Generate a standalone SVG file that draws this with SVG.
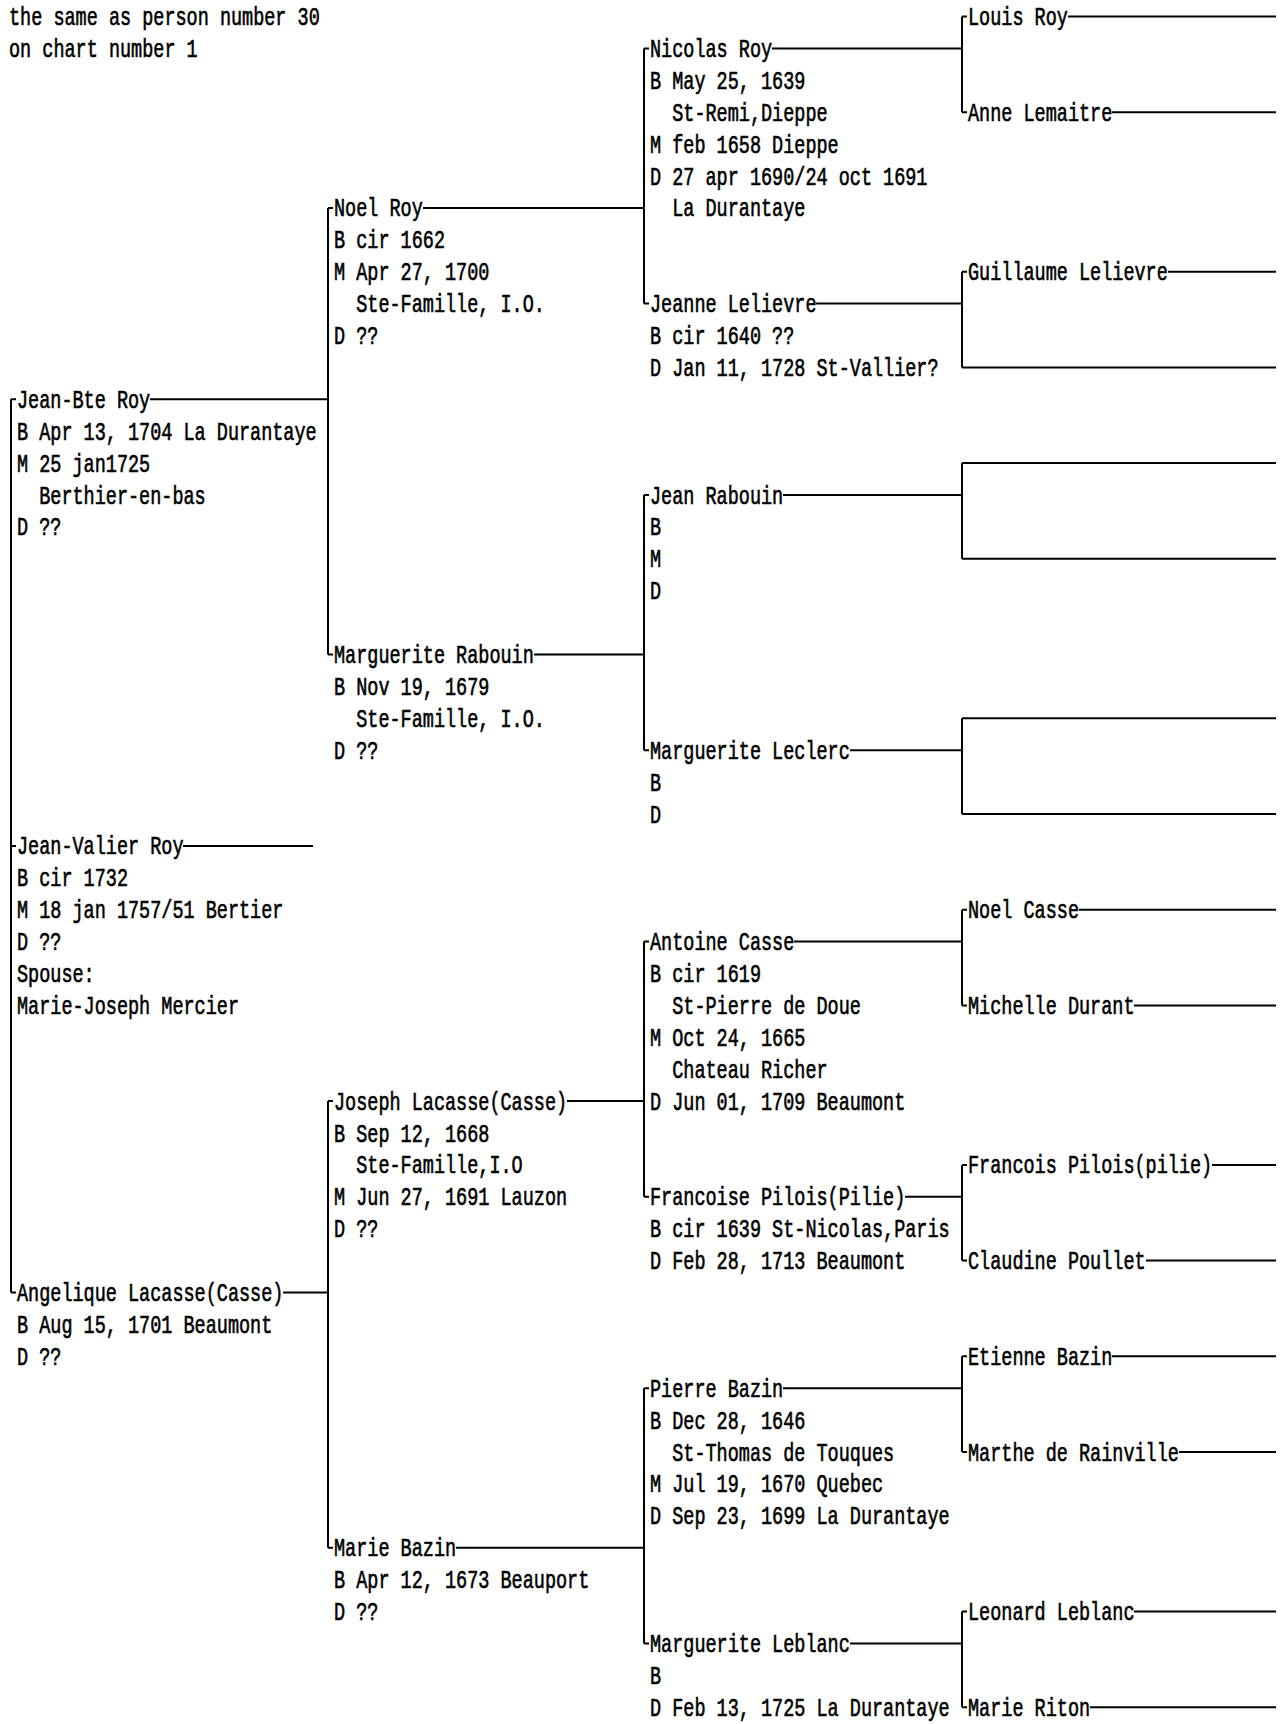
<svg xmlns="http://www.w3.org/2000/svg" width="1283" height="1724" viewBox="0 0 1283 1724">
<style>
.t{font-family:"Liberation Mono","DejaVu Sans Mono",monospace;font-size:18.5px;fill:#000;stroke:#000;stroke-width:0.45;white-space:pre}
.c{stroke:#000;stroke-width:2;fill:none}
</style>
<rect width="1283" height="1724" fill="#fff"/>
<g id="connectors" class="c">
<path d="M11 399.3V1292.5M11 399.3H16M11 845.9H16M11 1292.5H16"/>
<path d="M150 399.3H328M183 845.9H313M283 1292.5H328"/>
<path d="M328 207.9V654.5M328 207.9H333M328 654.5H333M328 1101.1V1547.7M328 1101.1H333M328 1547.7H333"/>
<path d="M423 207.9H644M534 654.5H644M567 1101.1H644M456 1547.7H644"/>
<path d="M644 48.4V303.6M644 48.4H649M644 303.6H649M644 495V750.2M644 495H649M644 750.2H649M644 941.6V1196.8M644 941.6H649M644 1196.8H649M644 1388.2V1643.4M644 1388.2H649M644 1643.4H649"/>
<path d="M772 48.4H962M816 303.6H962M783 495H962M850 750.2H962M794 941.6H962M905 1196.8H962M783 1388.2H962M850 1643.4H962"/>
<path d="M962 16.5V112.2M962 271.7V367.4M962 463.1V558.8M962 718.3V814M962 909.7V1005.4M962 1164.9V1260.6M962 1356.3V1452M962 1611.5V1707.2"/>
<path d="M962 16.5H967M1068 16.5H1276M962 112.2H967M1112 112.2H1276M962 271.7H967M1168 271.7H1276M962 367.4H1276M962 463.1H1276M962 558.8H1276M962 718.3H1276M962 814H1276M962 909.7H967M1079 909.7H1276M962 1005.4H967M1134 1005.4H1276M962 1164.9H967M1212 1164.9H1276M962 1260.6H967M1146 1260.6H1276M962 1356.3H967M1112 1356.3H1276M962 1452H967M1179 1452H1276M962 1611.5H967M1134 1611.5H1276M962 1707.2H967M1090 1707.2H1276"/>
</g>
<g id="note">
<text class="t" transform="matrix(1 0 0 1.4 9 25)">the same as person number 30</text>
<text class="t" transform="matrix(1 0 0 1.4 9 56.9)">on chart number 1</text>
</g>
<g id="jean-bte-roy">
<text class="t" transform="matrix(1 0 0 1.4 17 407.8)">Jean-Bte Roy</text>
<text class="t" transform="matrix(1 0 0 1.4 17 439.7)">B Apr 13, 1704 La Durantaye</text>
<text class="t" transform="matrix(1 0 0 1.4 17 471.6)">M 25 jan1725</text>
<text class="t" transform="matrix(1 0 0 1.4 39.2 503.5)">Berthier-en-bas</text>
<text class="t" transform="matrix(1 0 0 1.4 17 535.4)">D ??</text>
</g>
<g id="jean-valier-roy">
<text class="t" transform="matrix(1 0 0 1.4 17 854.4)">Jean-Valier Roy</text>
<text class="t" transform="matrix(1 0 0 1.4 17 886.3)">B cir 1732</text>
<text class="t" transform="matrix(1 0 0 1.4 17 918.2)">M 18 jan 1757/51 Bertier</text>
<text class="t" transform="matrix(1 0 0 1.4 17 950.1)">D ??</text>
<text class="t" transform="matrix(1 0 0 1.4 17 982)">Spouse:</text>
<text class="t" transform="matrix(1 0 0 1.4 17 1013.9)">Marie-Joseph Mercier</text>
</g>
<g id="angelique-lacasse">
<text class="t" transform="matrix(1 0 0 1.4 17 1301)">Angelique Lacasse(Casse)</text>
<text class="t" transform="matrix(1 0 0 1.4 17 1332.9)">B Aug 15, 1701 Beaumont</text>
<text class="t" transform="matrix(1 0 0 1.4 17 1364.8)">D ??</text>
</g>
<g id="noel-roy">
<text class="t" transform="matrix(1 0 0 1.4 334 216.4)">Noel Roy</text>
<text class="t" transform="matrix(1 0 0 1.4 334 248.3)">B cir 1662</text>
<text class="t" transform="matrix(1 0 0 1.4 334 280.2)">M Apr 27, 1700</text>
<text class="t" transform="matrix(1 0 0 1.4 356.2 312.1)">Ste-Famille, I.O.</text>
<text class="t" transform="matrix(1 0 0 1.4 334 344)">D ??</text>
</g>
<g id="marguerite-rabouin">
<text class="t" transform="matrix(1 0 0 1.4 334 663)">Marguerite Rabouin</text>
<text class="t" transform="matrix(1 0 0 1.4 334 694.9)">B Nov 19, 1679</text>
<text class="t" transform="matrix(1 0 0 1.4 356.2 726.8)">Ste-Famille, I.O.</text>
<text class="t" transform="matrix(1 0 0 1.4 334 758.7)">D ??</text>
</g>
<g id="joseph-lacasse">
<text class="t" transform="matrix(1 0 0 1.4 334 1109.6)">Joseph Lacasse(Casse)</text>
<text class="t" transform="matrix(1 0 0 1.4 334 1141.5)">B Sep 12, 1668</text>
<text class="t" transform="matrix(1 0 0 1.4 356.2 1173.4)">Ste-Famille,I.O</text>
<text class="t" transform="matrix(1 0 0 1.4 334 1205.3)">M Jun 27, 1691 Lauzon</text>
<text class="t" transform="matrix(1 0 0 1.4 334 1237.2)">D ??</text>
</g>
<g id="marie-bazin">
<text class="t" transform="matrix(1 0 0 1.4 334 1556.2)">Marie Bazin</text>
<text class="t" transform="matrix(1 0 0 1.4 334 1588.1)">B Apr 12, 1673 Beauport</text>
<text class="t" transform="matrix(1 0 0 1.4 334 1620)">D ??</text>
</g>
<g id="nicolas-roy">
<text class="t" transform="matrix(1 0 0 1.4 650 56.9)">Nicolas Roy</text>
<text class="t" transform="matrix(1 0 0 1.4 650 88.8)">B May 25, 1639</text>
<text class="t" transform="matrix(1 0 0 1.4 672.2 120.7)">St-Remi,Dieppe</text>
<text class="t" transform="matrix(1 0 0 1.4 650 152.6)">M feb 1658 Dieppe</text>
<text class="t" transform="matrix(1 0 0 1.4 650 184.5)">D 27 apr 1690/24 oct 1691</text>
<text class="t" transform="matrix(1 0 0 1.4 672.2 216.4)">La Durantaye</text>
</g>
<g id="jeanne-lelievre">
<text class="t" transform="matrix(1 0 0 1.4 650 312.1)">Jeanne Lelievre</text>
<text class="t" transform="matrix(1 0 0 1.4 650 344)">B cir 1640 ??</text>
<text class="t" transform="matrix(1 0 0 1.4 650 375.9)">D Jan 11, 1728 St-Vallier?</text>
</g>
<g id="jean-rabouin">
<text class="t" transform="matrix(1 0 0 1.4 650 503.5)">Jean Rabouin</text>
<text class="t" transform="matrix(1 0 0 1.4 650 535.4)">B</text>
<text class="t" transform="matrix(1 0 0 1.4 650 567.3)">M</text>
<text class="t" transform="matrix(1 0 0 1.4 650 599.2)">D</text>
</g>
<g id="marguerite-leclerc">
<text class="t" transform="matrix(1 0 0 1.4 650 758.7)">Marguerite Leclerc</text>
<text class="t" transform="matrix(1 0 0 1.4 650 790.6)">B</text>
<text class="t" transform="matrix(1 0 0 1.4 650 822.5)">D</text>
</g>
<g id="antoine-casse">
<text class="t" transform="matrix(1 0 0 1.4 650 950.1)">Antoine Casse</text>
<text class="t" transform="matrix(1 0 0 1.4 650 982)">B cir 1619</text>
<text class="t" transform="matrix(1 0 0 1.4 672.2 1013.9)">St-Pierre de Doue</text>
<text class="t" transform="matrix(1 0 0 1.4 650 1045.8)">M Oct 24, 1665</text>
<text class="t" transform="matrix(1 0 0 1.4 672.2 1077.7)">Chateau Richer</text>
<text class="t" transform="matrix(1 0 0 1.4 650 1109.6)">D Jun 01, 1709 Beaumont</text>
</g>
<g id="francoise-pilois">
<text class="t" transform="matrix(1 0 0 1.4 650 1205.3)">Francoise Pilois(Pilie)</text>
<text class="t" transform="matrix(1 0 0 1.4 650 1237.2)">B cir 1639 St-Nicolas,Paris</text>
<text class="t" transform="matrix(1 0 0 1.4 650 1269.1)">D Feb 28, 1713 Beaumont</text>
</g>
<g id="pierre-bazin">
<text class="t" transform="matrix(1 0 0 1.4 650 1396.7)">Pierre Bazin</text>
<text class="t" transform="matrix(1 0 0 1.4 650 1428.6)">B Dec 28, 1646</text>
<text class="t" transform="matrix(1 0 0 1.4 672.2 1460.5)">St-Thomas de Touques</text>
<text class="t" transform="matrix(1 0 0 1.4 650 1492.4)">M Jul 19, 1670 Quebec</text>
<text class="t" transform="matrix(1 0 0 1.4 650 1524.3)">D Sep 23, 1699 La Durantaye</text>
</g>
<g id="marguerite-leblanc">
<text class="t" transform="matrix(1 0 0 1.4 650 1651.9)">Marguerite Leblanc</text>
<text class="t" transform="matrix(1 0 0 1.4 650 1683.8)">B</text>
<text class="t" transform="matrix(1 0 0 1.4 650 1715.7)">D Feb 13, 1725 La Durantaye</text>
</g>
<g id="louis-roy"><text class="t" transform="matrix(1 0 0 1.4 968 25)">Louis Roy</text></g>
<g id="anne-lemaitre"><text class="t" transform="matrix(1 0 0 1.4 968 120.7)">Anne Lemaitre</text></g>
<g id="guillaume-lelievre"><text class="t" transform="matrix(1 0 0 1.4 968 280.2)">Guillaume Lelievre</text></g>
<g id="noel-casse"><text class="t" transform="matrix(1 0 0 1.4 968 918.2)">Noel Casse</text></g>
<g id="michelle-durant"><text class="t" transform="matrix(1 0 0 1.4 968 1013.9)">Michelle Durant</text></g>
<g id="francois-pilois"><text class="t" transform="matrix(1 0 0 1.4 968 1173.4)">Francois Pilois(pilie)</text></g>
<g id="claudine-poullet"><text class="t" transform="matrix(1 0 0 1.4 968 1269.1)">Claudine Poullet</text></g>
<g id="etienne-bazin"><text class="t" transform="matrix(1 0 0 1.4 968 1364.8)">Etienne Bazin</text></g>
<g id="marthe-de-rainville"><text class="t" transform="matrix(1 0 0 1.4 968 1460.5)">Marthe de Rainville</text></g>
<g id="leonard-leblanc"><text class="t" transform="matrix(1 0 0 1.4 968 1620)">Leonard Leblanc</text></g>
<g id="marie-riton"><text class="t" transform="matrix(1 0 0 1.4 968 1715.7)">Marie Riton</text></g>
</svg>
